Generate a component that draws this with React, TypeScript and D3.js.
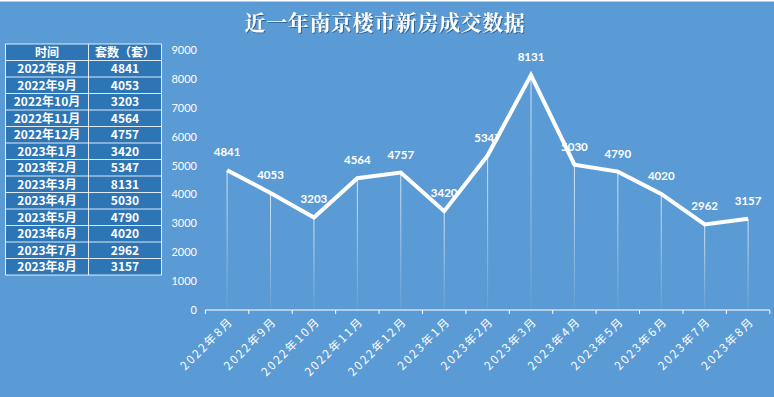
import * as d3 from 'd3';

const months = [
  '2022年8月', '2022年9月', '2022年10月', '2022年11月', '2022年12月',
  '2023年1月', '2023年2月', '2023年3月', '2023年4月', '2023年5月',
  '2023年6月', '2023年7月', '2023年8月',
];
const sales = [4841, 4053, 3203, 4564, 4757, 3420, 5347, 8131, 5030, 4790, 4020, 2962, 3157];
const yTicks = [0, 1000, 2000, 3000, 4000, 5000, 6000, 7000, 8000, 9000];
const tableHeader = ['时间', '套数（套）'];

const W = 774;
const H = 397;
const BG = '#5b9bd5';
const TABLE_BG = '#2e75b6';
const NUM_FONT = 'Lato, "Open Sans", sans-serif';
const CJK_FONT = '"Noto Sans CJK SC", "Noto Sans", sans-serif';

export default function App() {
  const x = d3.scaleBand<string>().domain(months).range([205.4, 769.8]);
  const y = d3.scaleLinear().domain([0, 9000]).range([310, 50]);
  const cx = (m: string) => x(m)! + x.bandwidth() / 2;

  const line = d3.line<number>()
    .x((_, i) => cx(months[i]))
    .y((d) => y(d));

  // table geometry
  const tx0 = 5.5, tx1 = 88.5, tx2 = 161.5, ty0 = 44, rowH = 16.5;
  const rows = months.map((m, i) => [m, String(sales[i])]);

  return (
    <svg width={W} height={H} style={{ position: 'absolute', left: 0, top: 0 }}>
      <defs>
        <linearGradient id="drop" x1="0" y1="0" x2="0" y2="1">
          <stop offset="0%" stopColor="#fff" stopOpacity={0.75} />
          <stop offset="100%" stopColor="#fff" stopOpacity={0.05} />
        </linearGradient>
        <filter id="tshadow" x="-10%" y="-30%" width="120%" height="160%">
          <feDropShadow dx="1" dy="1" stdDeviation="0.6" floodColor="#1f4e79" floodOpacity={0.7} />
        </filter>
      </defs>
      <rect width={W} height={H} fill={BG} />
      <rect width={W} height={1.5} fill="#fff" />

      {/* title */}
      <text x={385} y={30} textAnchor="middle" fill="#fff" fontSize={21} fontWeight="bold"
        letterSpacing={0.6} filter="url(#tshadow)"
        style={{ fontFamily: '"Noto Serif CJK SC", "Noto Sans CJK SC", serif' }}>
        近一年南京楼市新房成交数据
      </text>

      {/* table */}
      <g>
        <rect x={tx0} y={ty0} width={tx2 - tx0} height={rowH * (rows.length + 1)} fill={TABLE_BG} />
        {[tableHeader, ...rows].map((r, i) => (
          <g key={i}>
            <text x={(tx0 + tx1) / 2} y={ty0 + rowH * i + rowH / 2 + 4.3} textAnchor="middle"
              fill="#fff" fontSize={12} fontWeight="bold" style={{ fontFamily: CJK_FONT }}>{r[0]}</text>
            <text x={(tx1 + tx2) / 2} y={ty0 + rowH * i + rowH / 2 + 4.3} textAnchor="middle"
              fill="#fff" fontSize={12} fontWeight="bold" style={{ fontFamily: CJK_FONT }}>{r[1]}</text>
          </g>
        ))}
        {d3.range(rows.length + 2).map((i) => (
          <line key={'h' + i} x1={tx0} x2={tx2} y1={ty0 + rowH * i} y2={ty0 + rowH * i}
            stroke="#fff" strokeOpacity={0.85} strokeWidth={1} />
        ))}
        {[tx0, tx1, tx2].map((xx, i) => (
          <line key={'v' + i} x1={xx} x2={xx} y1={ty0} y2={ty0 + rowH * (rows.length + 1)}
            stroke="#fff" strokeOpacity={0.85} strokeWidth={1} />
        ))}
      </g>

      {/* y axis labels */}
      {yTicks.map((t) => (
        <text key={t} x={197} y={y(t) + 4} textAnchor="end" fill="#fff" fontSize={11}
          style={{ fontFamily: NUM_FONT }}>{t}</text>
      ))}

      {/* drop lines */}
      {sales.map((v, i) => (
        <rect key={'d' + i} x={cx(months[i]) - 0.5} y={y(v)} width={1} height={y(0) - y(v)}
          fill="url(#drop)" />
      ))}

      {/* x axis */}
      <line x1={x.range()[0]} x2={x.range()[1]} y1={y(0)} y2={y(0)} stroke="#fff" strokeWidth={1.2} />
      {[...months.map((m) => x(m)!), x.range()[1]].map((xx, i) => (
        <line key={'t' + i} x1={xx} x2={xx} y1={y(0)} y2={y(0) + 4} stroke="#fff" strokeWidth={1} />
      ))}
      {months.map((m) => (
        <text key={m} transform={`translate(${cx(m) + 7},${y(0) + 12}) rotate(-45)`} textAnchor="end"
          fill="#fff" fontSize={11.5} letterSpacing={2} style={{ fontFamily: CJK_FONT }}>{m}</text>
      ))}

      {/* line */}
      <path d={line(sales)!} fill="none" stroke="#fff" strokeWidth={4} strokeLinejoin="miter" />

      {/* data labels */}
      {sales.map((v, i) => (
        <text key={'l' + i} x={cx(months[i])} y={y(v) - 14} textAnchor="middle" fill="#fff"
          fontSize={11.5} fontWeight="bold" style={{ fontFamily: NUM_FONT }}>{v}</text>
      ))}
    </svg>
  );
}
